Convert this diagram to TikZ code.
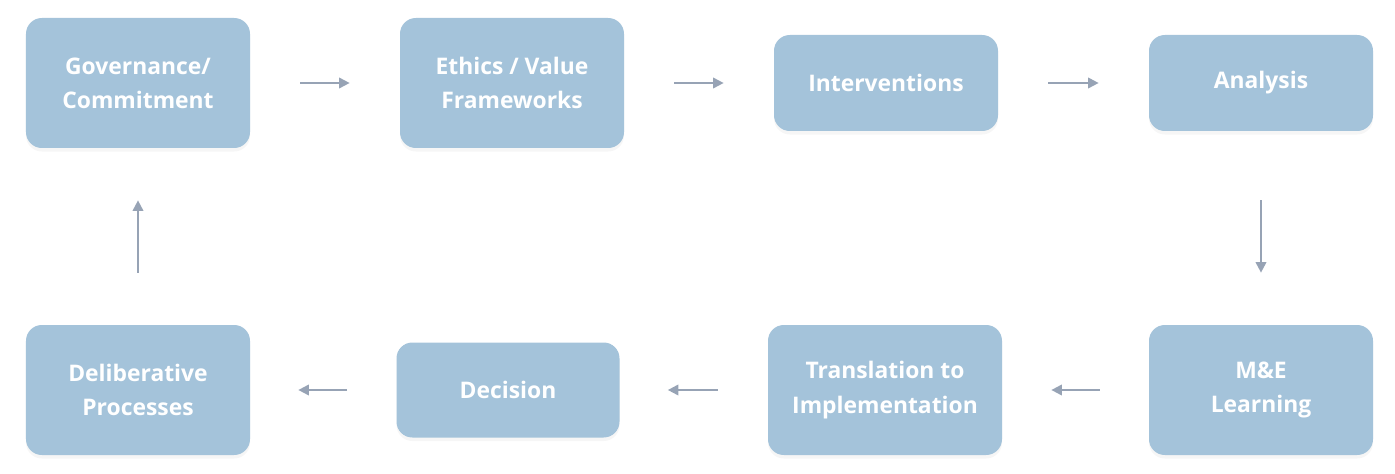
\documentclass[tikz,border=0pt]{standalone}
\usepackage{fontspec}
\setmainfont{Open Sans}
\usetikzlibrary{arrows.meta,shadows}
\definecolor{boxblue}{HTML}{A4C3DA}
\definecolor{arrowgray}{HTML}{97A3B5}
\tikzset{
  stage/.style={draw=none, fill=boxblue, rounded corners=9pt, text=white,
    font=\bfseries\fontsize{13}{19.5}\selectfont, align=center,
    drop shadow={shadow xshift=0pt, shadow yshift=-2pt, opacity=0.07}},
  flow/.style={arrowgray, line width=1.1pt, -{Triangle[length=6pt,width=6pt]}}
}
\begin{document}
\begin{tikzpicture}
    \useasboundingbox (0,0) rectangle (27.9,9.46);

    % Obere Reihe
    \node[stage, minimum width=4.48cm, minimum height=2.6cm] (gov) at (2.76,7.8) {Governance/\\Commitment};
    \node[stage, minimum width=4.48cm, minimum height=2.6cm] (ethics) at (10.24,7.8) {Ethics / Value\\Frameworks};
    \node[stage, minimum width=4.48cm, minimum height=1.92cm] (interv) at (17.72,7.8) {Interventions};
    \node[stage, minimum width=4.48cm, minimum height=1.92cm] (analysis) at (25.22,7.8) {Analysis};

    % Untere Reihe
    \node[stage, minimum width=4.48cm, minimum height=2.6cm] (delib) at (2.76,1.66) {Deliberative\\Processes};
    \node[stage, minimum width=4.46cm, minimum height=1.9cm] (decision) at (10.16,1.66) {Decision};
    \node[stage, minimum width=4.68cm, minimum height=2.6cm] (transl) at (17.7,1.66) {Translation to\\Implementation};
    \node[stage, minimum width=4.48cm, minimum height=2.6cm] (me) at (25.22,1.66) {M\&E\\Learning};

    % Pfeile
    \draw[flow, shorten <=1cm, shorten >=1cm] (gov) -- (ethics);
    \draw[flow, shorten <=1cm, shorten >=1cm] (ethics) -- (interv);
    \draw[flow, shorten <=1cm, shorten >=1cm] (interv) -- (analysis);
    \draw[flow, shorten <=1.38cm, shorten >=1.04cm] (analysis) -- (me);
    \draw[flow, shorten <=0.98cm, shorten >=0.98cm] (me) -- (transl);
    \draw[flow, shorten <=1cm, shorten >=0.96cm] (transl) -- (decision);
    \draw[flow, shorten <=0.98cm, shorten >=0.96cm] (decision) -- (delib);
    \draw[flow, shorten <=1.04cm, shorten >=1.04cm] (delib) -- (gov);
\end{tikzpicture}
\end{document}
